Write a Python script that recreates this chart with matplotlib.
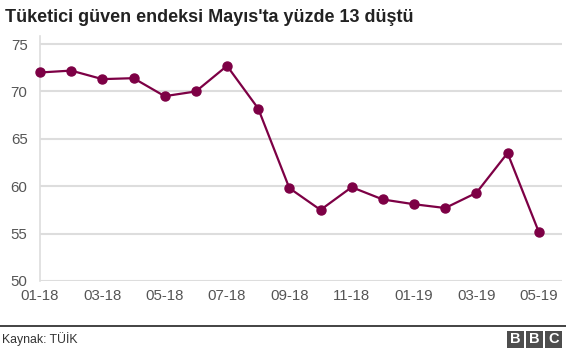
import matplotlib
matplotlib.use("Agg")
import matplotlib.pyplot as plt
from matplotlib.patches import Rectangle

months = ["01-18", "02-18", "03-18", "04-18", "05-18", "06-18", "07-18", "08-18", "09-18",
          "10-18", "11-18", "12-18", "01-19", "02-19", "03-19", "04-19", "05-19"]
values = [72.0, 72.2, 71.3, 71.4, 69.5, 70.0, 72.7, 68.2, 59.8,
          57.5, 59.9, 58.6, 58.1, 57.7, 59.3, 63.5, 55.2]
yticks = [50, 55, 60, 65, 70, 75]
title = "Tüketici güven endeksi Mayıs'ta yüzde 13 düştü"
source = "Kaynak: TÜİK"

plt.rcParams['font.family'] = ['Liberation Sans', 'DejaVu Sans']

W, H = 566, 352
fig = plt.figure(figsize=(W / 100, H / 100), dpi=100)

def fx(px):
    return px / W

def fy(py):
    return 1 - py / H

ax_left, ax_right, ax_top, ax_bot = 40, 562, 36, 281
ax = fig.add_axes([fx(ax_left), fy(ax_bot), fx(ax_right - ax_left), (ax_bot - ax_top) / H])

x = list(range(len(months)))
color = "#7d0045"
ax.plot(x, values, color=color, lw=1.6, marker="o", markersize=6.5, zorder=3, clip_on=False)

ax.set_ylim(50, 75.85)
step = (538.7 - 40) / 16
ax.set_xlim(0, (ax_right - ax_left) / step)
ax.set_yticks(yticks)
ax.set_xticks(x[::2])
ax.set_xticklabels(months[::2])
ax.grid(axis="y", color="#dddddd", lw=1.5)
ax.set_axisbelow(True)
for s in ["top", "right", "bottom"]:
    ax.spines[s].set_visible(False)
ax.spines["left"].set_color("#dddddd")
ax.spines["left"].set_linewidth(1.2)
ax.tick_params(axis="both", length=0, labelsize=10.8, colors="#555555")
ax.tick_params(axis="y", pad=9)
ax.tick_params(axis="x", pad=6)

fig.text(fx(5), fy(17), title, fontsize=13, fontweight="bold", color="#222222",
         ha="left", va="center")

# footer line
fig.add_artist(plt.Line2D([0, 1], [fy(325.7), fy(325.7)], color="#222222", lw=1.2,
                          transform=fig.transFigure))
fig.text(fx(2), fy(339), source, fontsize=8.8, color="#333333", ha="left", va="center")

# BBC logo
bw, bh, gap = 17, 17, 2
x0 = 507
for i, letter in enumerate("BBC"):
    bx = x0 + i * (bw + gap)
    fig.add_artist(Rectangle((fx(bx), fy(347.5)), bw / W, bh / H, transform=fig.transFigure,
                             facecolor="#4d4d4d", edgecolor="none"))
    fig.text(fx(bx + bw / 2), fy(339), letter, fontsize=10.5, fontweight="bold",
             color="white", ha="center", va="center")

fig.savefig("out.png", dpi=100)
